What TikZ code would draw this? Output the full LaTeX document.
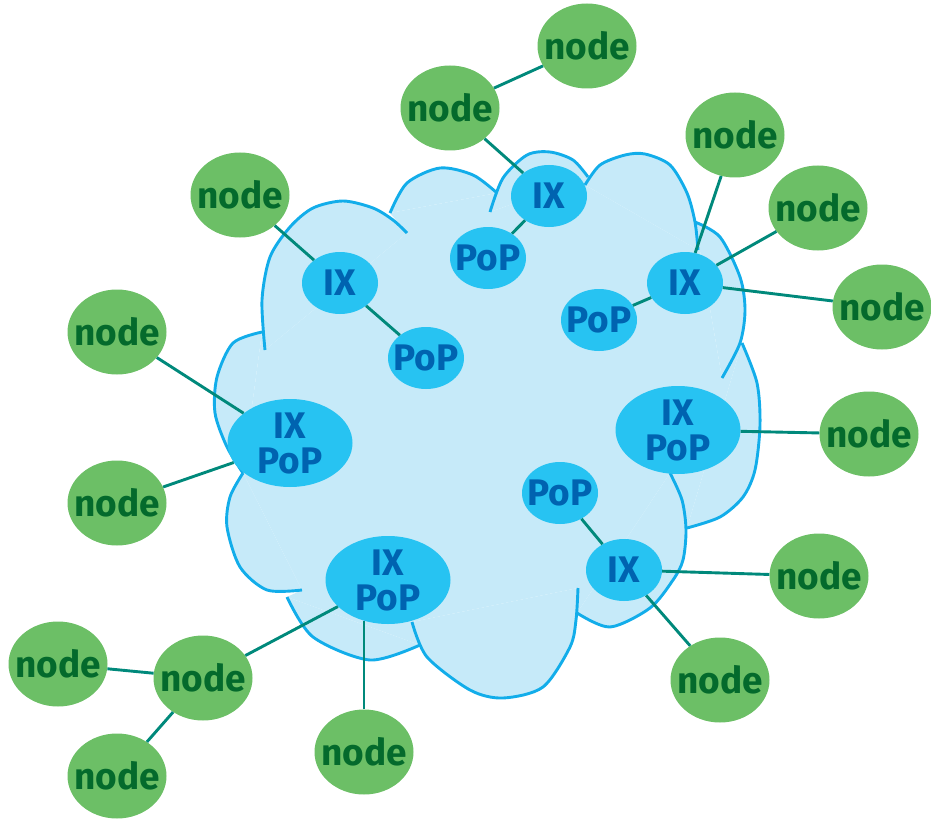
\documentclass[tikz,border=0pt]{standalone}
\usepackage{fontspec}
\setmainfont{Fira Sans}
\usetikzlibrary{shapes.geometric}
\definecolor{cloudfill}{HTML}{C6EAF9}
\definecolor{cloudline}{HTML}{12ADEA}
\definecolor{hubfill}{HTML}{27C3F2}
\definecolor{hubtext}{HTML}{0063B0}
\definecolor{leaffill}{HTML}{6CBF66}
\definecolor{leaftext}{HTML}{046A2C}
\definecolor{linkcol}{HTML}{00897B}
\begin{document}
\begin{tikzpicture}[x=1pt,y=-1pt,font=\fontsize{37}{35}\selectfont\bfseries,
    leaf/.style={ellipse,fill=leaffill,text=leaftext,minimum width=99pt,minimum height=85pt,inner sep=-14pt},
    hub/.style={ellipse,fill=hubfill,text=hubtext,minimum width=76pt,minimum height=62pt,inner sep=-14pt},
    bighub/.style={hub,minimum width=125pt,minimum height=88pt,align=center},
    link/.style={linkcol,line width=2.9pt}]
    \useasboundingbox (0,0) rectangle (931,821);
    % cloud: one lobe per list
    \def\lobes{{(265,350) (262,300) (270,257) (290,227) (313,208) (343,201) (373,208) (393,220) (407,233)},
        {(390,213) (407,183) (440,168) (473,175) (497,193)},
        {(490,212) (503,178) (527,155) (550,152) (573,160) (588,177)},
        {(585,185) (600,165) (625,155) (645,154) (670,165) (687,193) (695,222) (698,250)},
        {(695,222) (720,237) (740,277) (745,310) (740,343) (722,378)},
        {(742,343) (757,383) (760,425) (755,470) (743,497) (720,517) (687,528)},
        {(670,473) (682,500) (686,530) (683,560) (673,580) (650,608) (610,627) (577,613)},
        {(578,588) (576,620) (570,647) (543,687) (503,698) (470,690) (427,657) (412,622)},
        {(420,645) (370,660) (313,637) (287,597)},
        {(302,590) (267,590) (240,567) (227,527) (230,497) (243,473)},
        {(243,473) (227,447) (215,413) (217,377) (233,343) (262,332)}}
    \fill[cloudfill] (265,350) -- (407,233) -- (390,213) -- (497,193) -- (490,212) -- (588,177)
        -- (585,185) -- (698,250) -- (695,222) -- (722,378) -- (742,343) -- (687,528) -- (670,473)
        -- (577,613) -- (578,588) -- (412,622) -- (420,645) -- (287,597) -- (302,590) -- (243,473)
        -- (262,332) -- cycle;
    \foreach \pts in \lobes {
        \edef\tmp{\noexpand\fill[cloudfill] plot[smooth] coordinates {\pts} -- cycle;}\tmp
    }
    \foreach \pts in \lobes {
        \edef\tmp{\noexpand\draw[cloudline,line width=2.9pt] plot[smooth] coordinates {\pts};}\tmp
    }
    % exchange points inside the cloud
    \node[hub] (ixT) at (549,196) {IX};
    \node[hub] (popT) at (488,258) {PoP};
    \node[hub] (ixL) at (340,283) {IX};
    \node[hub] (popL) at (426,358) {PoP};
    \node[hub] (ixR) at (685,283) {IX};
    \node[hub] (popR) at (599,320) {PoP};
    \node[bighub] (ixpopL) at (290,443) {IX\\PoP};
    \node[bighub] (ixpopR) at (678,430) {IX\\PoP};
    \node[hub] (popB) at (560,493) {PoP};
    \node[hub] (ixB) at (624,570) {IX};
    \node[bighub] (ixpopB) at (388,580) {IX\\PoP};
    % outside nodes
    \node[leaf] (n1) at (587,46) {node};
    \node[leaf] (n2) at (450,108) {node};
    \node[leaf] (n3) at (240,195) {node};
    \node[leaf] (n4) at (735,135) {node};
    \node[leaf] (n5) at (818,208) {node};
    \node[leaf] (n6) at (882,307) {node};
    \node[leaf] (n7) at (117,332) {node};
    \node[leaf] (n8) at (869,434) {node};
    \node[leaf] (n9) at (117,503) {node};
    \node[leaf] (n10) at (819,576) {node};
    \node[leaf] (n11) at (58,664) {node};
    \node[leaf] (n12) at (203,678) {node};
    \node[leaf] (n13) at (720,680) {node};
    \node[leaf] (n14) at (117,776) {node};
    \node[leaf] (n15) at (364,752) {node};
    % links
    \draw[link] (n1) -- (n2);
    \draw[link] (n2) -- (ixT);
    \draw[link] (ixT) -- (popT);
    \draw[link] (n3) -- (ixL);
    \draw[link] (ixL) -- (popL);
    \draw[link] (n4) -- (ixR);
    \draw[link] (n5) -- (ixR);
    \draw[link] (n6) -- (ixR);
    \draw[link] (ixR) -- (popR);
    \draw[link] (n7) -- (ixpopL);
    \draw[link] (n9) -- (ixpopL);
    \draw[link] (n8) -- (ixpopR);
    \draw[link] (popB) -- (ixB);
    \draw[link] (n10) -- (ixB);
    \draw[link] (n13) -- (ixB);
    \draw[link] (n12) -- (ixpopB);
    \draw[link] (n15) -- (n15 |- ixpopB.240);
    \draw[link] (n11) -- (n12);
    \draw[link] (n12) -- (n14);
\end{tikzpicture}
\end{document}
